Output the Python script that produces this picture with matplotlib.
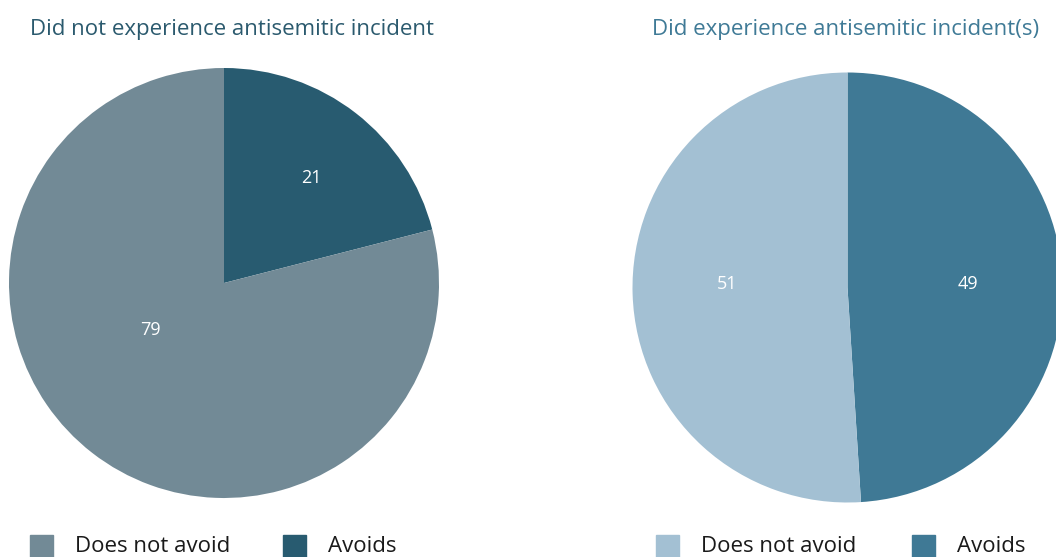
import numpy as np
import matplotlib.pyplot as plt
from matplotlib.patches import Rectangle

plt.rcParams['font.family'] = ['Open Sans', 'DejaVu Sans']

# data
categories = ["Does not avoid", "Avoids"]
left_title = "Did not experience antisemitic incident"
right_title = "Did experience antisemitic incident(s)"
left_values = [79, 21]
right_values = [51, 49]

left_colors = ["#728a96", "#285b70"]
right_colors = ["#a3c0d3", "#3f7995"]

W, H = 1056, 557
fig = plt.figure(figsize=(W / 100, H / 100), dpi=100)


def pie_axes(cx, cy, r):
    return fig.add_axes([(cx - r) / W, (H - cy - r) / H, 2 * r / W, 2 * r / H])


def draw_pie(ax, values, colors, label_pos):
    # Avoids wedge starts at 12 o'clock and runs clockwise
    ax.pie(values[::-1], colors=colors[::-1], startangle=90, counterclock=False,
           radius=1, wedgeprops=dict(linewidth=0))
    ax.set_xlim(-1, 1)
    ax.set_ylim(-1, 1)
    ax.set_aspect('equal')
    ax.axis('off')
    for v, (x, y) in zip(values, label_pos):
        ax.text(x, y, str(v), color='white', fontsize=13, ha='center', va='center')


axl = pie_axes(224, 283, 215)
draw_pie(axl, left_values, left_colors, [(-0.344, -0.22), (0.405, 0.49)])

axr = pie_axes(847.5, 287.5, 215)
draw_pie(axr, right_values, right_colors, [(-0.56, 0.015), (0.56, 0.015)])


def ftext(px, py, s, **kw):
    fig.text(px / W, 1 - py / H, s, **kw)


ftext(30, 30, left_title, color="#2b5a6e", fontsize=16, va='center', ha='left')
ftext(652, 30, right_title, color="#3f7a96", fontsize=16, va='center', ha='left')


def legend(x0, x1, colors):
    for x, c, lab in zip([x0, x1], colors, categories):
        fig.patches.append(Rectangle((x / W, 1 - 557 / H), 23 / W, 22 / H,
                                     transform=fig.transFigure, color=c))
        ftext(x + 45, 546, lab, color="#1a1a1a", fontsize=16, va='center', ha='left')


legend(30, 283, left_colors)
legend(656, 912, right_colors)

fig.savefig("out.png", dpi=100)
